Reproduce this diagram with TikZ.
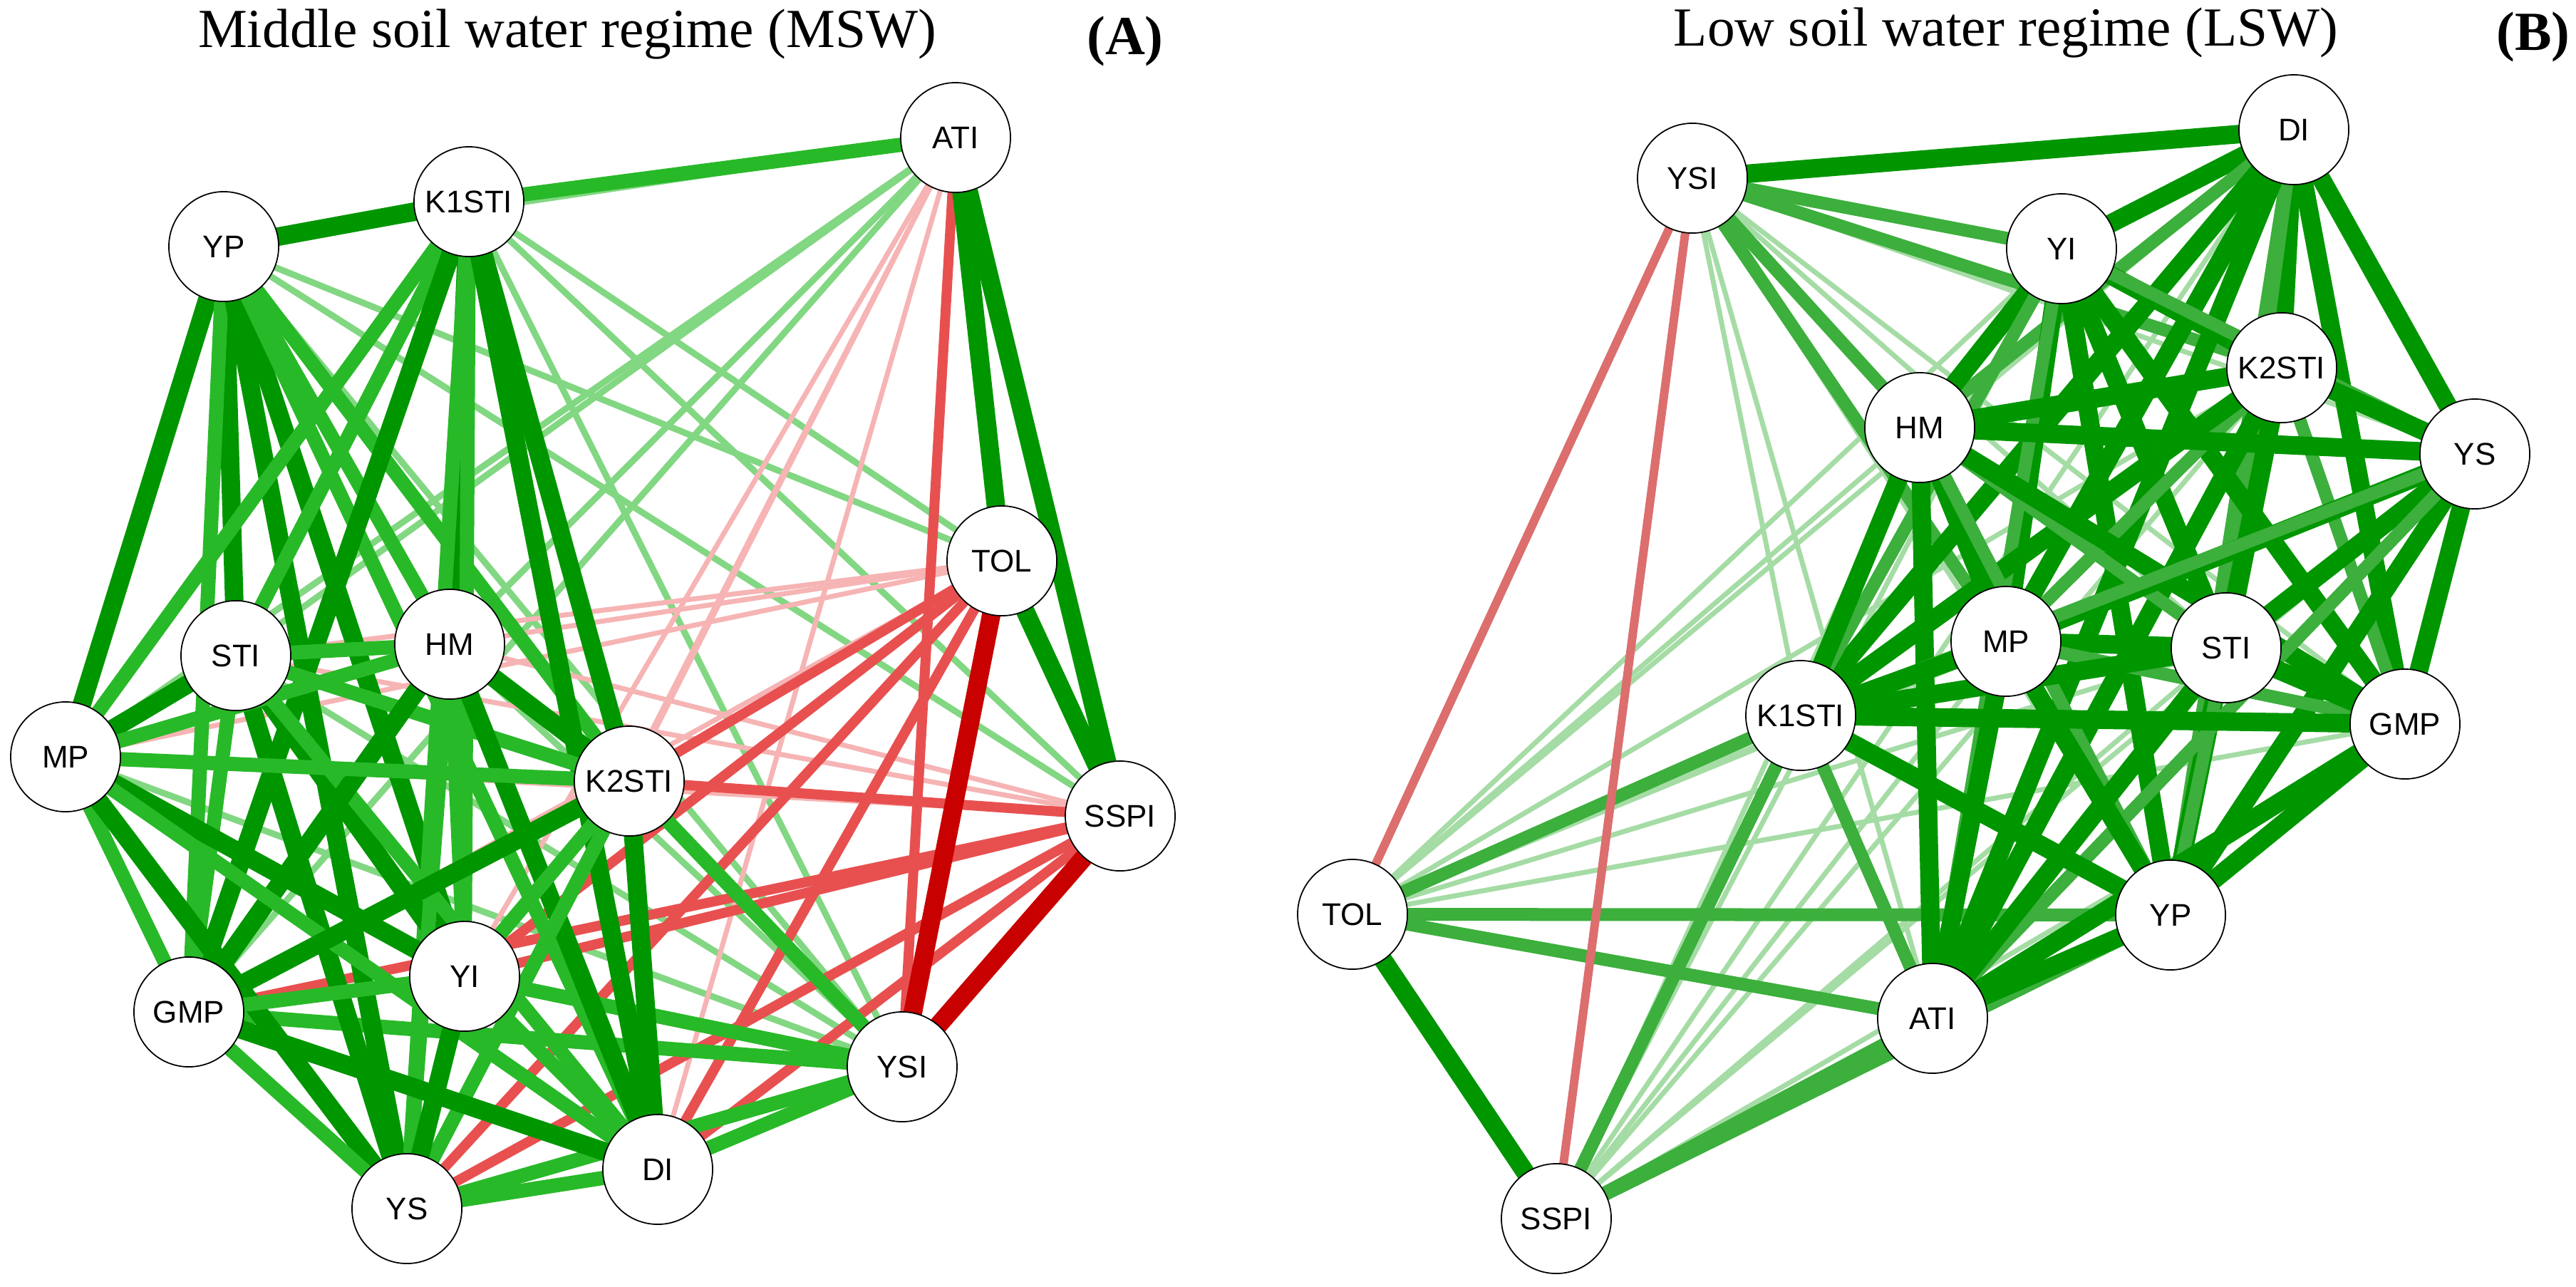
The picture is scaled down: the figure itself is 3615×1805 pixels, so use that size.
\documentclass[tikz,border=0pt]{standalone}
\usepackage{fontspec}
\setmainfont{Liberation Serif}
\newfontfamily\lab{Liberation Sans}
\begin{document}
\begin{tikzpicture}[x=0.01cm,y=-0.01cm,
  nd/.style={circle,draw=black,line width=0.5pt,fill=white,minimum size=1.54cm,inner sep=0pt,font=\lab\fontsize{12.5}{14}\selectfont},
  G1/.style={draw={rgb,255:red,0;green,150;blue,0},line width=0.26cm},
  G2/.style={draw={rgb,255:red,40;green,185;blue,40},line width=0.2cm},
  G3/.style={draw={rgb,255:red,130;green,215;blue,130},line width=0.09cm},
  R1/.style={draw={rgb,255:red,200;green,0;blue,0},line width=0.26cm},
  R2/.style={draw={rgb,255:red,232;green,80;blue,80},line width=0.14cm},
  R3/.style={draw={rgb,255:red,246;green,180;blue,180},line width=0.07cm},
  BG1/.style={draw={rgb,255:red,0;green,150;blue,0},line width=0.26cm},
  BG2/.style={draw={rgb,255:red,60;green,175;blue,60},line width=0.18cm},
  BG3/.style={draw={rgb,255:red,165;green,220;blue,165},line width=0.07cm},
  BR/.style={draw={rgb,255:red,220;green,110;blue,110},line width=0.12cm},
  ttl/.style={font=\fontsize{22}{26}\selectfont},
  tag/.style={font=\bfseries\fontsize{22}{26}\selectfont}]
\useasboundingbox (0,0) rectangle (3615,1805);
% ---------- node positions ----------
\foreach \n/\x/\y in {ATI/1341/193,K1STI/658/283,YP/314/346,TOL/1406/787,STI/331/920,HM/631/904,MP/92/1062,K2STI/883/1096,SSPI/1572/1145,YI/652/1370,GMP/265/1420,YSI/1266/1497,DI/923/1641,YS/571/1696}
  \coordinate (a\n) at (\x,\y);
\foreach \n/\x/\y in {DI/3219/182,YSI/2375/250,YI/2893/349,K2STI/3202/516,HM/2694/600,YS/3473/637,MP/2815/900,STI/3124/909,K1STI/2527/1004,GMP/3375/1016,TOL/1898/1283,YP/3046/1284,ATI/2712/1429,SSPI/2184/1710}
  \coordinate (b\n) at (\x,\y);
% ---------- Panel A edges ----------
\foreach \p/\q/\s in {ATI/STI/G3,ATI/HM/G3,ATI/MP/G3,ATI/GMP/G3,ATI/YP/G3,YP/TOL/G3,YP/SSPI/G3,K1STI/TOL/G3,K1STI/SSPI/G3,
  YSI/MP/G3,YSI/STI/G3,YSI/HM/G3,YSI/YP/G3,YSI/K1STI/G3,
  ATI/DI/R3,ATI/YS/R3,ATI/K2STI/R3,ATI/YI/R3,K1STI/DI/R3,TOL/HM/R3,TOL/GMP/R3,TOL/STI/R3,TOL/MP/R3,SSPI/HM/R3,SSPI/STI/R3,SSPI/MP/R3}
  \draw[\s] (a\p) -- (a\q);
\foreach \p/\q/\s in {ATI/YSI/R2,TOL/K2STI/R2,TOL/YS/R2,TOL/DI/R2,TOL/YI/R2,SSPI/K2STI/R2,SSPI/YI/R2,SSPI/DI/R2,SSPI/YS/R2,SSPI/GMP/R2,
  YSI/DI/G2,YSI/K2STI/G2,YSI/YI/G2,YSI/GMP/G2,YSI/YS/G2,ATI/K1STI/G2,
  ATI/TOL/G1,ATI/SSPI/G1,TOL/SSPI/G1,TOL/YSI/R1,SSPI/YSI/R1}
  \draw[\s] (a\p) -- (a\q);
\foreach \p [count=\i] in {YP,K1STI,STI,HM,MP,K2STI,YI,GMP,YS,DI}
  \foreach \q [count=\j] in {YP,K1STI,STI,HM,MP,K2STI,YI,GMP,YS,DI}
    {\ifnum\j>\i \ifodd\numexpr\i+\j\relax \draw[G2] (a\p) -- (a\q); \else \draw[G1] (a\p) -- (a\q); \fi\fi}
\draw[G1] (aYP) -- (aK1STI);
% ---------- Panel B edges ----------
\foreach \p/\q/\s in {TOL/HM/BG3,TOL/MP/BG3,TOL/STI/BG3,TOL/GMP/BG3,TOL/DI/BG3,TOL/YI/BG3,TOL/K2STI/BG3,TOL/YS/BG3,
  SSPI/MP/BG3,SSPI/STI/BG3,SSPI/GMP/BG3,SSPI/HM/BG3,SSPI/YI/BG3,SSPI/K2STI/BG3,SSPI/YS/BG3,SSPI/DI/BG3,
  YSI/K1STI/BG3,YSI/ATI/BG3,YSI/YP/BG3,YSI/GMP/BG3,YSI/YS/BG3,YSI/STI/BG3,YSI/MP/BG2}
  \draw[\s] (b\p) -- (b\q);
\foreach \p/\q/\s in {TOL/ATI/BG2,TOL/YP/BG2,TOL/K1STI/BG2,SSPI/ATI/BG2,SSPI/YP/BG2,SSPI/K1STI/BG2,
  YSI/YI/BG2,YSI/HM/BG2,YSI/K2STI/BG2,YSI/DI/BG1,TOL/SSPI/BG1,YSI/TOL/BR,YSI/SSPI/BR}
  \draw[\s] (b\p) -- (b\q);
\foreach \p [count=\i] in {DI,YI,K2STI,HM,YS,MP,STI,K1STI,GMP,YP,ATI}
  \foreach \q [count=\j] in {DI,YI,K2STI,HM,YS,MP,STI,K1STI,GMP,YP,ATI}
    {\ifnum\j>\i \ifnum\numexpr\i+2*\j-3*((\i+2*\j)/3)\relax=0 \draw[BG2] (b\p) -- (b\q); \else \draw[BG1] (b\p) -- (b\q); \fi\fi}
% ---------- nodes ----------
\foreach \n in {ATI,K1STI,YP,TOL,STI,HM,MP,K2STI,SSPI,YI,GMP,YSI,DI,YS}
  \node[nd] (A\n) at (a\n) {\n};
\foreach \n in {DI,YSI,YI,K2STI,HM,YS,MP,STI,K1STI,GMP,TOL,YP,ATI,SSPI}
  \node[nd] (B\n) at (b\n) {\n};
% ---------- titles ----------
\node[ttl] (tA) at (796,48) {Middle soil water regime (MSW)};
\node[tag] (gA) at (1579,58) {(A)};
\node[ttl] (tB) at (2815,46) {Low soil water regime (LSW)};
\node[tag] (gB) at (3555,52) {(B)};
\end{tikzpicture}
\end{document}
